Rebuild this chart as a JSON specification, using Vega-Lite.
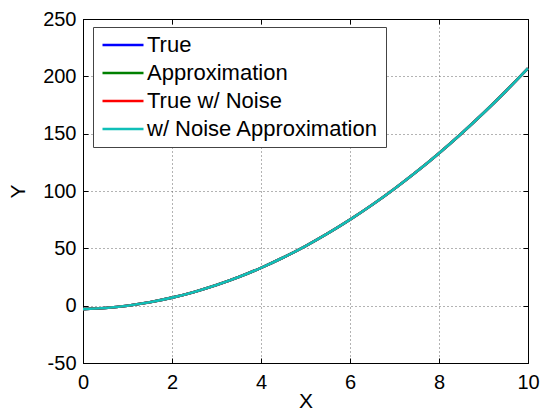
{
  "$schema": "https://vega.github.io/schema/vega-lite/v6.json",
  "width": 445,
  "height": 344,
  "autosize": {"type": "none"},
  "padding": {"left": 83, "top": 19, "right": 15, "bottom": 51},
  "background": "white",
  "config": {
    "view": {"stroke": "black", "strokeWidth": 1},
    "font": "Liberation Sans",
    "axis": {
      "labelFont": "Liberation Sans",
      "labelFontSize": 20,
      "labelColor": "black",
      "labelExpr": "datum.value + ''",
      "titleFont": "Liberation Sans",
      "titleFontSize": 21,
      "titleFontWeight": "normal",
      "titleColor": "black",
      "domainColor": "black",
      "tickColor": "black",
      "tickSize": -5,
      "gridColor": "#666",
      "gridDash": [1, 3],
      "gridWidth": 1
    }
  },
  "data": {
    "values": [
      {"x": 0, "True": -3, "Approximation": -3, "True w/ Noise": -3, "w/ Noise Approximation": -3},
      {"x": 0.5, "True": -2, "Approximation": -2, "True w/ Noise": -2, "w/ Noise Approximation": -2},
      {"x": 1, "True": 0, "Approximation": 0, "True w/ Noise": 0, "w/ Noise Approximation": 0},
      {"x": 1.5, "True": 3, "Approximation": 3, "True w/ Noise": 3, "w/ Noise Approximation": 3},
      {"x": 2, "True": 7, "Approximation": 7, "True w/ Noise": 7, "w/ Noise Approximation": 7},
      {"x": 2.5, "True": 12, "Approximation": 12, "True w/ Noise": 12, "w/ Noise Approximation": 12},
      {"x": 3, "True": 18, "Approximation": 18, "True w/ Noise": 18, "w/ Noise Approximation": 18},
      {"x": 3.5, "True": 25, "Approximation": 25, "True w/ Noise": 25, "w/ Noise Approximation": 25},
      {"x": 4, "True": 33, "Approximation": 33, "True w/ Noise": 33, "w/ Noise Approximation": 33},
      {"x": 4.5, "True": 42, "Approximation": 42, "True w/ Noise": 42, "w/ Noise Approximation": 42},
      {"x": 5, "True": 52, "Approximation": 52, "True w/ Noise": 52, "w/ Noise Approximation": 52},
      {"x": 5.5, "True": 63, "Approximation": 63, "True w/ Noise": 63, "w/ Noise Approximation": 63},
      {"x": 6, "True": 75, "Approximation": 75, "True w/ Noise": 75, "w/ Noise Approximation": 75},
      {"x": 6.5, "True": 88, "Approximation": 88, "True w/ Noise": 88, "w/ Noise Approximation": 88},
      {"x": 7, "True": 102, "Approximation": 102, "True w/ Noise": 102, "w/ Noise Approximation": 102},
      {"x": 7.5, "True": 117, "Approximation": 117, "True w/ Noise": 117, "w/ Noise Approximation": 117},
      {"x": 8, "True": 133, "Approximation": 133, "True w/ Noise": 133, "w/ Noise Approximation": 133},
      {"x": 8.5, "True": 150, "Approximation": 150, "True w/ Noise": 150, "w/ Noise Approximation": 150},
      {"x": 9, "True": 168, "Approximation": 168, "True w/ Noise": 168, "w/ Noise Approximation": 168},
      {"x": 9.5, "True": 187, "Approximation": 187, "True w/ Noise": 187, "w/ Noise Approximation": 187},
      {"x": 10, "True": 207, "Approximation": 207, "True w/ Noise": 207, "w/ Noise Approximation": 207}
    ]
  },
  "transform": [
    {"fold": ["True", "Approximation", "True w/ Noise", "w/ Noise Approximation"], "as": ["series", "y"]}
  ],
  "layer": [
    {
      "mark": {"type": "line", "interpolate": "monotone"},
      "encoding": {
        "x": {
          "field": "x", "type": "quantitative",
          "scale": {"domain": [0, 10], "nice": false, "zero": false},
          "axis": {"title": "X", "values": [0, 2, 4, 6, 8, 10], "labelPadding": 14, "titlePadding": -2, "labelFlush": false}
        },
        "y": {
          "field": "y", "type": "quantitative",
          "scale": {"domain": [-50, 250], "nice": false, "zero": false},
          "axis": {"title": "Y", "values": [-50, 0, 50, 100, 150, 200, 250], "labelPadding": 12, "titlePadding": 14, "labelFlush": false}
        },
        "color": {
          "field": "series", "type": "nominal",
          "scale": {
            "domain": ["True", "Approximation", "True w/ Noise", "w/ Noise Approximation"],
            "range": ["#0000ff", "#008000", "#ff0000", "#0fbfb8"]
          },
          "legend": {
            "title": null,
            "orient": "none",
            "legendX": 10,
            "legendY": 8,
            "direction": "vertical",
            "fillColor": "white",
            "strokeColor": "#444",
            "padding": 7,
            "symbolType": "M-4.1,0H4.1",
            "symbolSize": 100,
            "symbolStrokeWidth": 2,
            "symbolOffset": 12,
            "labelFont": "Liberation Sans",
            "labelFontSize": 22,
            "labelColor": "black",
            "labelOffset": 13,
            "labelLimit": 400,
            "rowPadding": 6
          }
        },
        "strokeWidth": {
          "field": "series", "type": "nominal",
          "scale": {
            "domain": ["True", "Approximation", "True w/ Noise", "w/ Noise Approximation"],
            "range": [2.6, 2.6, 2.6, 3.4]
          },
          "legend": null
        }
      }
    },
    {
      "mark": {"type": "line", "opacity": 0},
      "encoding": {
        "x": {
          "field": "x", "type": "quantitative",
          "axis": {"orient": "top", "title": null, "labels": false, "grid": false, "values": [0, 2, 4, 6, 8, 10]}
        },
        "y": {
          "field": "y", "type": "quantitative",
          "axis": {"orient": "right", "title": null, "labels": false, "grid": false, "values": [-50, 0, 50, 100, 150, 200, 250]}
        },
        "detail": {"field": "series"}
      }
    }
  ],
  "resolve": {"axis": {"x": "independent", "y": "independent"}}
}
